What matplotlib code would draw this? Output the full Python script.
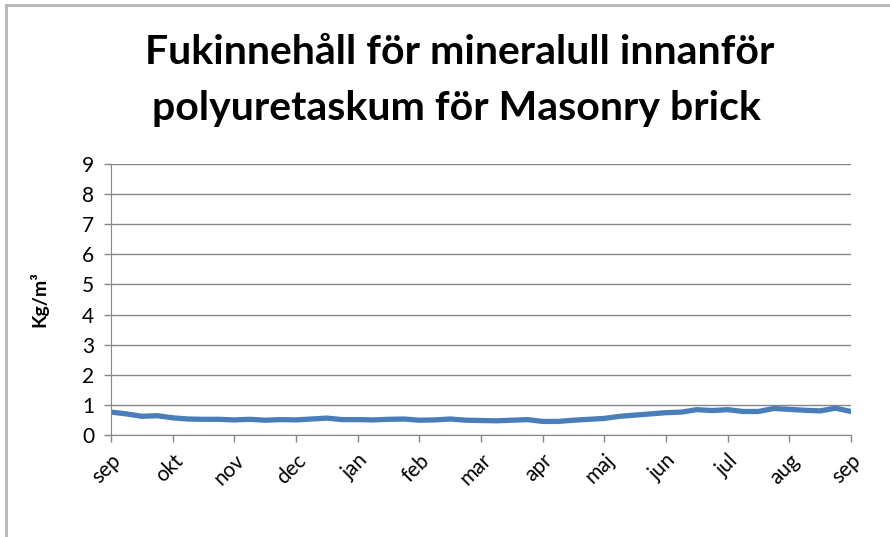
import numpy as np
import matplotlib
matplotlib.use("Agg")
import matplotlib.pyplot as plt
from matplotlib.lines import Line2D

plt.rcParams['font.family'] = ['Lato', 'DejaVu Sans']

# data (roughly weekly points in month units)
months = ['sep', 'okt', 'nov', 'dec', 'jan', 'feb', 'mar',
          'apr', 'maj', 'jun', 'jul', 'aug', 'sep']
x_pos = np.arange(0, 12.01, 0.25)
moisture = [0.76, 0.70, 0.62, 0.64, 0.57, 0.53, 0.52, 0.52,
            0.50, 0.52, 0.49, 0.51, 0.50, 0.53, 0.56, 0.51,
            0.51, 0.50, 0.52, 0.53, 0.49, 0.50, 0.53, 0.49,
            0.48, 0.47, 0.49, 0.51, 0.45, 0.45, 0.49, 0.52,
            0.55, 0.62, 0.66, 0.70, 0.74, 0.76, 0.84, 0.81,
            0.84, 0.78, 0.78, 0.88, 0.85, 0.82, 0.80, 0.89,
            0.78]
y_ticks = list(range(0, 10))

fig = plt.figure(figsize=(8.9, 5.37), dpi=100)
ax = fig.add_axes([0.1247, 0.190, 0.8315, 0.5047])

ax.plot(x_pos, moisture, color='#4A7EBB', lw=3.8, solid_capstyle='round')

ax.set_xlim(0, 12)
ax.set_ylim(0, 9)
ax.set_yticks(y_ticks)
ax.set_xticks(range(len(months)))
ax.set_xticklabels(months, rotation=45, ha='right', rotation_mode='anchor')
ax.tick_params(axis='both', labelsize=15, color='#868686', length=5, width=1)
ax.tick_params(axis='x', pad=6)
ax.tick_params(axis='y', pad=7)
ax.grid(axis='y', color='#868686', lw=1)
ax.set_axisbelow(True)
for s in ['top', 'right']:
    ax.spines[s].set_visible(False)
for s in ['left', 'bottom']:
    ax.spines[s].set_color('#868686')

ax.set_ylabel('Kg/m³', fontsize=14, fontweight='bold', labelpad=24)

fig.text(0.516, 0.902, 'Fukinnehåll för mineralull innanför', ha='center', va='center',
         fontsize=29.5, fontweight='bold')
fig.text(0.513, 0.798, 'polyuretaskum för Masonry brick', ha='center', va='center',
         fontsize=29.5, fontweight='bold')

# chart frame edges visible in the screenshot
fig.add_artist(Line2D([0.007, 0.007], [0, 0.99], transform=fig.transFigure, color='#b4b4b4', lw=2))
fig.add_artist(Line2D([0.007, 1], [0.99, 0.99], transform=fig.transFigure, color='#b4b4b4', lw=2))

fig.savefig('out.png', dpi=100)
